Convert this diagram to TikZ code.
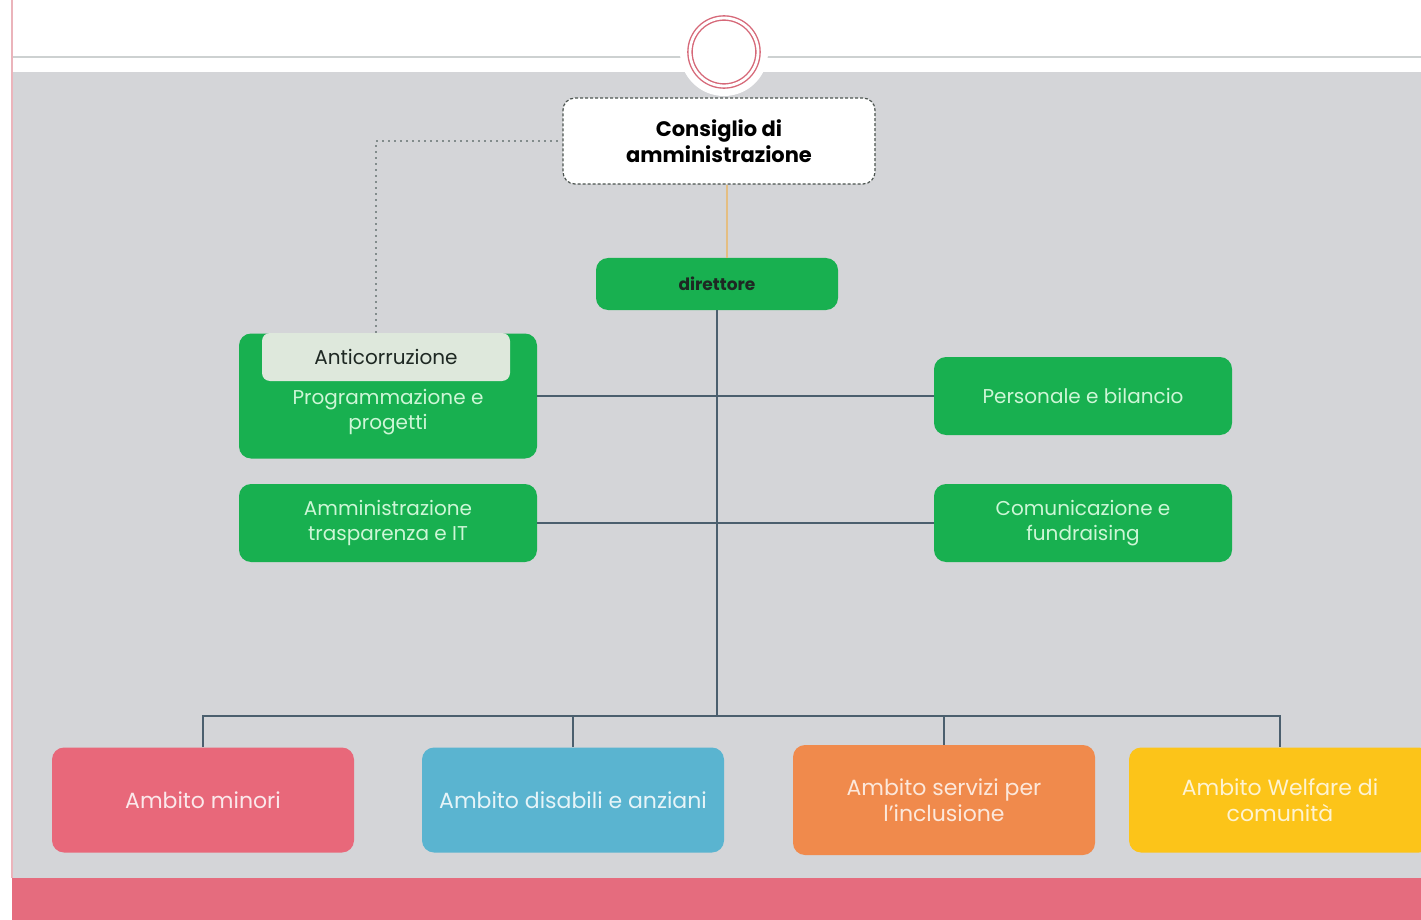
\documentclass[tikz,border=0pt]{standalone}
\usepackage{fontspec}
\setmainfont{Poppins}
\usetikzlibrary{positioning}

\definecolor{ufgray}{RGB}{212,213,216}
\definecolor{ufgreen}{RGB}{24,176,80}
\definecolor{uflight}{RGB}{205,246,214}
\definecolor{ufdark}{RGB}{30,40,35}
\definecolor{uflink}{RGB}{75,95,110}
\definecolor{ufpale}{RGB}{222,232,220}
\definecolor{ufbar}{RGB}{229,108,126}
\definecolor{ufring}{RGB}{214,104,120}
\definecolor{ufminori}{RGB}{232,104,122}
\definecolor{ufdisabili}{RGB}{90,180,208}
\definecolor{ufservizi}{RGB}{240,138,76}
\definecolor{ufwelfare}{RGB}{252,196,25}
\definecolor{ufgold}{RGB}{228,190,130}
\definecolor{ufdots}{RGB}{130,140,140}

\begin{document}
\begin{tikzpicture}[x=0.5pt,y=-0.5pt,
    box/.style={rounded corners=6pt,align=center,inner sep=2pt,font=\fontsize{10}{12.5}\selectfont},
    greenbox/.style={box,fill=ufgreen,text=uflight,minimum width=149pt,minimum height=39pt},
    ambito/.style={box,minimum width=151pt,minimum height=52.5pt,font=\fontsize{11}{13}\selectfont},
    link/.style={draw=uflink,line width=1.4pt}]

    \useasboundingbox (0,0) rectangle (1421,920);
    \fill[ufgray] (12,72) rectangle (1421,878);
    \fill[ufbar] (12,878) rectangle (1421,920);
    \draw[ufdots!40,line width=1pt] (12,57) -- (1421,57);
    \draw[ufring!50,line width=0.6pt] (12,0) -- (12,878);

    \node[circle,fill=white,minimum size=44pt] (logo) at (724,52) {};
    \node[circle,draw=ufring,double=white,double distance=1.4pt,line width=0.7pt,minimum size=34pt] (ring) at (724,52) {};

    \node[box,draw=ufdark!80,dash pattern=on 1.5pt off 1pt,line width=0.6pt,fill=white,minimum width=156pt,minimum height=43pt,font=\fontsize{10.5}{13}\selectfont\bfseries] (consiglio) at (719,141) {Consiglio di\\amministrazione};
    \node[greenbox,minimum width=121pt,minimum height=26pt,text=ufdark,font=\fontsize{8.5}{10}\selectfont\bfseries] (direttore) at (717,284) {direttore};

    \node[greenbox,minimum height=62.5pt] (programmazione) at (388,396) {};
    \node[text=uflight,align=center,font=\fontsize{10}{12.5}\selectfont] (progtext) at (388,412) {Programmazione e\\progetti};
    \node[box,fill=ufpale,text=ufdark,rounded corners=4pt,minimum width=124pt,minimum height=24pt] (anticorruzione) at (386,357) {Anticorruzione};
    \node[greenbox] (amministrazione) at (388,523) {Amministrazione\\trasparenza e IT};
    \node[greenbox] (personale) at (1083,396) {Personale e bilancio};
    \node[greenbox] (comunicazione) at (1083,523) {Comunicazione e\\fundraising};

    \node[ambito,fill=ufminori,text=white!85!ufminori] (minori) at (203,800) {Ambito minori};
    \node[ambito,fill=ufdisabili,text=white!85!ufdisabili] (disabili) at (573,800) {Ambito disabili e anziani};
    \node[ambito,fill=ufservizi,text=white!80!ufservizi,minimum height=55pt] (servizi) at (944,800) {Ambito servizi per\\l'inclusione};
    \node[ambito,fill=ufwelfare,text=white!80!ufwelfare] (welfare) at (1280,800) {Ambito Welfare di\\comunità};

    \coordinate (bus) at (717,716);

    \draw[dotted,ufdots,line width=1pt] ([xshift=-5pt]anticorruzione.north) |- (consiglio.west);
    \draw[ufgold,line width=1pt] ([xshift=5pt]direttore.north) -- ([xshift=5pt]direttore.north |- consiglio.south);
    \draw[link] (direttore.south) -- (bus);
    \draw[link] (programmazione.east) -- (personale.west);
    \draw[link] (amministrazione.east) -- (comunicazione.west);
    \draw[link] (minori.north) |- (bus) -| (welfare.north);
    \draw[link] (disabili.north) -- (disabili.north |- bus);
    \draw[link] (servizi.north) -- (servizi.north |- bus);

\end{tikzpicture}
\end{document}
